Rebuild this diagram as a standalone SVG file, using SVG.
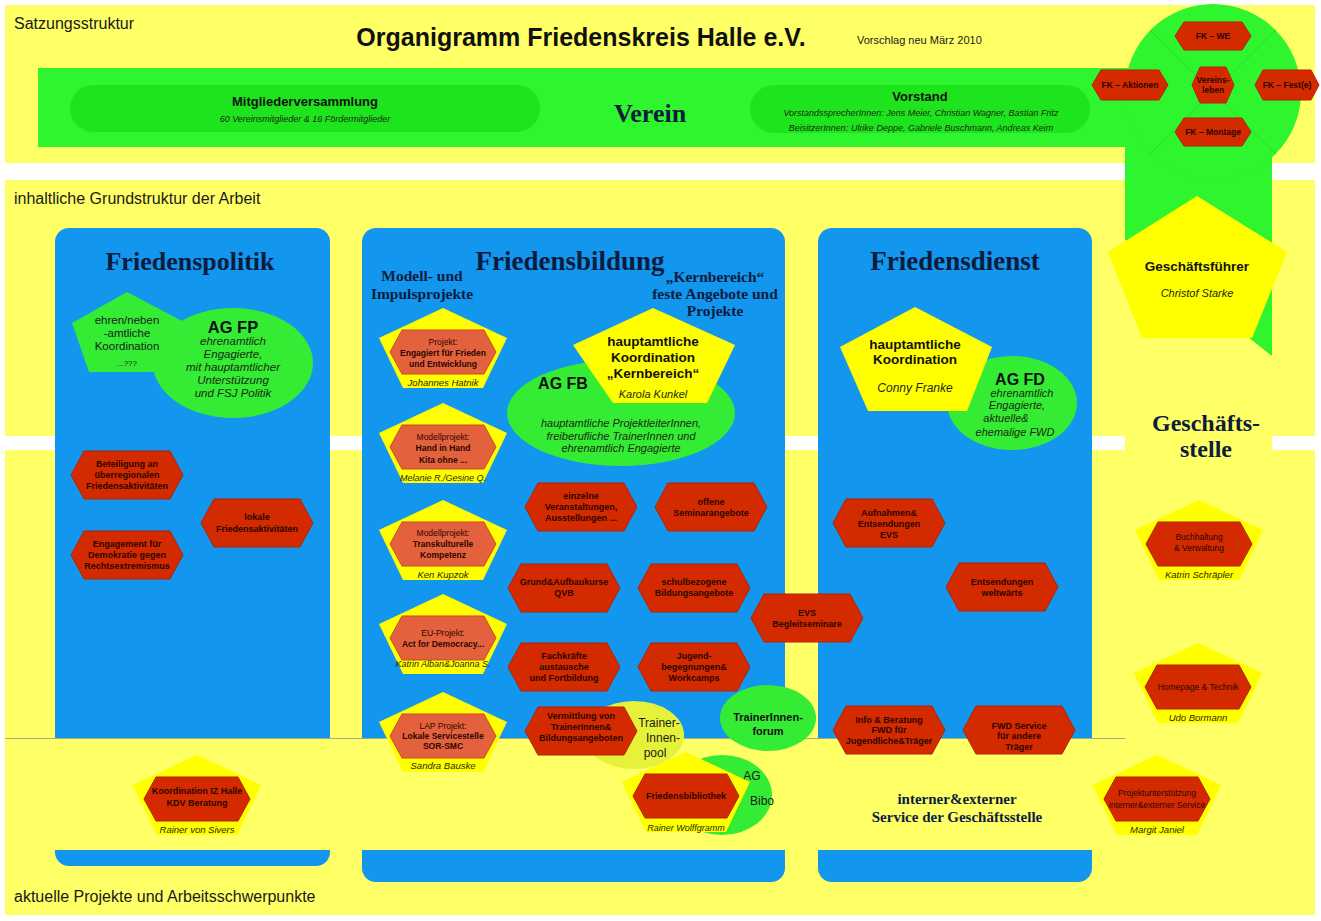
<svg xmlns="http://www.w3.org/2000/svg" width="1321" height="921" viewBox="0 0 1321 921">
<style>
.serif{font-family:"Liberation Serif","Times New Roman",serif;font-weight:bold;fill:#0d1c3d;text-anchor:middle}
.bg{fill:#ffff66}
.col{fill:#1296ee}
.band{fill:#2ef52e}
.pill{fill:#1de41d}
.grn{fill:#34ec34}
.pent{fill:#ffff00}
.hex{fill:#d42a00;stroke:#b52300;stroke-width:1}
.hexp{fill:#e4613d;stroke:#c94a2a;stroke-width:1}
.pool{fill:#e6f23a}
.hx{font-family:"Liberation Sans",Arial,sans-serif;font-size:9px;font-weight:bold;fill:#2b0600;text-anchor:middle}
.fk{font-family:"Liberation Sans",Arial,sans-serif;font-size:8.5px;font-weight:bold;fill:#2b0600;text-anchor:middle}
.hp{font-family:"Liberation Sans",Arial,sans-serif;font-size:8.5px;font-weight:bold;fill:#2b0600;text-anchor:middle}
.hn{font-family:"Liberation Sans",Arial,sans-serif;font-size:8.5px;fill:#2b0600;text-anchor:middle}
.nm{font-family:"Liberation Sans",Arial,sans-serif;font-style:italic;fill:#2a2a10;text-anchor:middle}
.lbl{font-family:"Liberation Sans",Arial,sans-serif;fill:#1a1a1a}
.bold{font-family:"Liberation Sans",Arial,sans-serif;font-weight:bold;fill:#111;text-anchor:middle}
.it{font-family:"Liberation Sans",Arial,sans-serif;font-style:italic;fill:#1a2a10;text-anchor:middle}
.sp{stroke:#22c822;stroke-width:1;opacity:0.5}
</style>
<defs>
  <polygon id="pent" points="0,0 64,30 40,80 -40,80 -64,30"/>
  <polygon id="hexIn" points="-53,44 -41,22 41,22 53,44 41,66 -41,66"/>
  <polygon id="hexL" points="-56,0 -43,-24 43,-24 56,0 43,24 -43,24"/>
  <polygon id="hexFK" points="-38,0 -29,-14 29,-14 38,0 29,14 -29,14"/>
</defs>

<!-- page background and sections -->
<rect width="1321" height="921" fill="#ffffff"/>
<rect class="bg" x="5" y="5" width="1310" height="158"/>
<rect class="bg" x="5" y="180" width="1310" height="735"/>
<rect x="0" y="436" width="1321" height="14" fill="#ffffff"/>
<rect class="bg" x="1125" y="430" width="147" height="26"/>

<!-- Verein band, circle and link down to the Geschäftsstelle -->
<polygon class="band" points="1125,140 1272,140 1272,356 1125,240"/>
<rect class="band" x="38" y="68" width="1180" height="79"/>
<circle class="band" cx="1213" cy="92" r="88"/>
<line class="sp" x1="1213" y1="92" x2="1150" y2="30"/>
<line class="sp" x1="1213" y1="92" x2="1276" y2="30"/>
<line class="sp" x1="1213" y1="92" x2="1150" y2="154"/>
<line class="sp" x1="1213" y1="92" x2="1276" y2="154"/>

<text class="lbl" x="14" y="29" font-size="16">Satzungsstruktur</text>
<text class="bold" x="581" y="46" font-size="25">Organigramm Friedenskreis Halle e.V.</text>
<text class="lbl" x="857" y="44" font-size="11">Vorschlag neu März 2010</text>
<text class="lbl" x="14" y="204" font-size="16">inhaltliche Grundstruktur der Arbeit</text>
<text class="lbl" x="14" y="902" font-size="16">aktuelle Projekte und Arbeitsschwerpunkte</text>

<g id="mitgliederversammlung">
  <rect class="pill" x="70" y="85" width="470" height="47" rx="23.5"/>
  <text class="bold" x="305" y="106" font-size="13">Mitgliederversammlung</text>
  <text class="it" x="305" y="122" font-size="9">60 Vereinsmitglieder &amp; 16  Fördermitglieder</text>
</g>
<g id="verein">
  <text class="serif" x="650" y="122" font-size="26" fill="#111">Verein</text>
</g>
<g id="vorstand">
  <rect class="pill" x="750" y="85" width="340" height="48" rx="24"/>
  <text class="bold" x="920" y="101" font-size="13">Vorstand</text>
  <text class="it" x="921" y="116" font-size="9">VorstandssprecherInnen:  Jens Meier, Christian Wagner, Bastian Fritz</text>
  <text class="it" x="921" y="131" font-size="9">BeisitzerInnen: Ulrike Deppe, Gabriele Buschmann, Andreas Keim</text>
</g>

<g id="fk-we" transform="translate(1213,36)">
  <use href="#hexFK" class="hex"/>
  <text class="fk" y="3">FK – WE</text>
</g>
<g id="fk-aktionen" transform="translate(1130,85)">
  <polygon class="hex" points="-38,0 -29,-15 29,-15 38,0 29,15 -29,15"/>
  <text class="fk" y="3">FK – Aktionen</text>
</g>
<g id="vereinsleben" transform="translate(1213,85)">
  <polygon class="hex" points="-21,0 -13,-18 13,-18 21,0 13,18 -13,18"/>
  <text class="fk" y="-2">Vereins-</text>
  <text class="fk" y="8">leben</text>
</g>
<g id="fk-feste" transform="translate(1287,85)">
  <polygon class="hex" points="-32,0 -24,-15 24,-15 32,0 24,15 -24,15"/>
  <text class="fk" y="3">FK – Fest(e)</text>
</g>
<g id="fk-montage" transform="translate(1213,132)">
  <use href="#hexFK" class="hex"/>
  <text class="fk" y="3">FK – Montage</text>
</g>

<!-- working area columns -->
<rect class="col" x="55" y="228" width="275" height="638" rx="14"/>
<rect class="col" x="362" y="228" width="423" height="654" rx="14"/>
<rect class="col" x="818" y="228" width="274" height="654" rx="14"/>
<rect class="bg" x="5" y="739" width="1120" height="111"/>
<line x1="5" y1="738.5" x2="1125" y2="738.5" stroke="#a9a98a" stroke-width="1"/>

<g id="connectors"/>

<!-- Friedenspolitik -->
<text class="serif" x="190" y="270" font-size="26">Friedenspolitik</text>
<g id="ag-fp">
  <ellipse class="grn" cx="233" cy="363" rx="80" ry="55"/>
  <text class="bold" x="233" y="333" font-size="16.5">AG FP</text>
  <text class="it" x="233" y="345" font-size="11.5">ehrenamtlich</text>
  <text class="it" x="233" y="358" font-size="11.5">Engagierte,</text>
  <text class="it" x="233" y="371" font-size="11.5">mit hauptamtlicher</text>
  <text class="it" x="233" y="384" font-size="11.5">Unterstützung</text>
  <text class="it" x="233" y="397" font-size="11.5">und FSJ Politik</text>
</g>
<g id="fp-koordination">
  <polygon class="grn" points="127,292 182,321 156,372 89,372 72,323"/>
  <text class="lbl" x="127" y="324" font-size="11.5" text-anchor="middle">ehren/neben</text>
  <text class="lbl" x="127" y="337" font-size="11.5" text-anchor="middle">-amtliche</text>
  <text class="lbl" x="127" y="350" font-size="11.5" text-anchor="middle">Koordination</text>
  <text class="lbl" x="127" y="366" font-size="8" text-anchor="middle">...???</text>
</g>
<g id="fp-beteiligung" transform="translate(127,475)">
  <use href="#hexL" class="hex"/>
  <text class="hx" y="-8">Beteiligung an</text>
  <text class="hx" y="3">überregionalen</text>
  <text class="hx" y="14">Friedensaktivitäten</text>
</g>
<g id="fp-lokal" transform="translate(257,523)">
  <use href="#hexL" class="hex"/>
  <text class="hx" y="-3">lokale</text>
  <text class="hx" y="9">Friedensaktivitäten</text>
</g>
<g id="fp-demokratie" transform="translate(127,555)">
  <use href="#hexL" class="hex"/>
  <text class="hx" y="-8">Engagement für</text>
  <text class="hx" y="3">Demokratie gegen</text>
  <text class="hx" y="14">Rechtsextremismus</text>
</g>
<g id="fp-kdv" transform="translate(197,755)">
  <use href="#pent" class="pent"/>
  <use href="#hexIn" class="hex"/>
  <text class="hx" y="39">Koordination IZ Halle</text>
  <text class="hx" y="51">KDV Beratung</text>
  <text class="nm" y="78" font-size="9.5">Rainer von Sivers</text>
</g>

<!-- Friedensbildung -->
<text class="serif" x="570" y="270" font-size="27">Friedensbildung</text>
<text class="serif" x="422" y="281" font-size="15.5">Modell- und</text>
<text class="serif" x="422" y="299" font-size="15.5">Impulsprojekte</text>
<text class="serif" x="715" y="282" font-size="15.5">„Kernbereich“</text>
<text class="serif" x="715" y="299" font-size="15.5">feste Angebote und</text>
<text class="serif" x="715" y="316" font-size="15.5">Projekte</text>

<g id="fb-engagiert" transform="translate(443,308)">
  <use href="#pent" class="pent"/>
  <use href="#hexIn" class="hexp"/>
  <text class="hn" y="37">Projekt:</text>
  <text class="hp" y="48">Engagiert für Frieden</text>
  <text class="hp" y="59">und Entwicklung</text>
  <text class="nm" y="78" font-size="9.5">Johannes Hatnik</text>
</g>
<g id="fb-handinhand" transform="translate(443,403)">
  <use href="#pent" class="pent"/>
  <use href="#hexIn" class="hexp"/>
  <text class="hn" y="37">Modellprojekt:</text>
  <text class="hp" y="48">Hand in Hand</text>
  <text class="hp" y="60">Kita ohne ...</text>
  <text class="nm" y="78" font-size="9">Melanie R./Gesine Q.</text>
</g>
<g id="fb-transkulturell" transform="translate(443,500)">
  <use href="#pent" class="pent"/>
  <use href="#hexIn" class="hexp"/>
  <text class="hn" y="36">Modellprojekt:</text>
  <text class="hp" y="47">Transkulturelle</text>
  <text class="hp" y="58">Kompetenz</text>
  <text class="nm" y="78" font-size="9.5">Ken Kupzok</text>
</g>
<g id="fb-democracy" transform="translate(443,594)">
  <use href="#pent" class="pent"/>
  <use href="#hexIn" class="hexp"/>
  <text class="hn" y="42">EU-Projekt:</text>
  <text class="hp" y="53">Act for Democracy...</text>
  <text class="nm" y="73" font-size="9">Katrin Alban&amp;Joanna  S.</text>
</g>
<g id="fb-lap" transform="translate(443,692)">
  <use href="#pent" class="pent"/>
  <use href="#hexIn" class="hexp"/>
  <text class="hn" y="37">LAP Projekt:</text>
  <text class="hp" y="47">Lokale Servicestelle</text>
  <text class="hp" y="57">SOR-SMC</text>
  <text class="nm" y="77" font-size="9.5">Sandra Bauske</text>
</g>

<g id="ag-fb">
  <ellipse class="grn" cx="621" cy="413" rx="114" ry="53"/>
  <text class="bold" x="563" y="389" font-size="16">AG FB</text>
  <text class="it" x="621" y="427" font-size="11">hauptamtliche ProjektleiterInnen,</text>
  <text class="it" x="621" y="440" font-size="11">freiberufliche TrainerInnen und</text>
  <text class="it" x="621" y="452" font-size="11">ehrenamtlich Engagierte</text>
</g>
<g id="fb-koordination">
  <polygon class="pent" points="653,308 735,345 707,403 613,403 573,345"/>
  <text class="bold" x="653" y="346" font-size="13.5">hauptamtliche</text>
  <text class="bold" x="653" y="362" font-size="13.5">Koordination</text>
  <text class="bold" x="653" y="378" font-size="13.5">„Kernbereich“</text>
  <text class="it" x="653" y="398" font-size="11">Karola Kunkel</text>
</g>

<g id="fb-veranstaltungen" transform="translate(581,507)">
  <use href="#hexL" class="hex"/>
  <text class="hx" y="-8">einzelne</text>
  <text class="hx" y="3">Veranstaltungen,</text>
  <text class="hx" y="14">Ausstellungen ...</text>
</g>
<g id="fb-seminare" transform="translate(711,507)">
  <use href="#hexL" class="hex"/>
  <text class="hx" y="-2">offene</text>
  <text class="hx" y="9">Seminarangebote</text>
</g>
<g id="fb-qvb" transform="translate(564,588)">
  <use href="#hexL" class="hex"/>
  <text class="hx" y="-3">Grund&amp;Aufbaukurse</text>
  <text class="hx" y="8">QVB</text>
</g>
<g id="fb-schule" transform="translate(694,588)">
  <use href="#hexL" class="hex"/>
  <text class="hx" y="-3">schulbezogene</text>
  <text class="hx" y="8">Bildungsangebote</text>
</g>
<g id="fb-fachkraefte" transform="translate(564,667)">
  <use href="#hexL" class="hex"/>
  <text class="hx" y="-8">Fachkräfte</text>
  <text class="hx" y="3">austausche</text>
  <text class="hx" y="14">und Fortbildung</text>
</g>
<g id="fb-jugend" transform="translate(694,667)">
  <use href="#hexL" class="hex"/>
  <text class="hx" y="-8">Jugend-</text>
  <text class="hx" y="3">begegnungen&amp;</text>
  <text class="hx" y="14">Workcamps</text>
</g>
<g id="fb-trainerpool">
  <ellipse class="pool" cx="634" cy="735" rx="50" ry="34"/>
  <text class="lbl" x="659" y="727" font-size="12" text-anchor="middle">Trainer-</text>
  <text class="lbl" x="663" y="742" font-size="12" text-anchor="middle">Innen-</text>
  <text class="lbl" x="655" y="757" font-size="12" text-anchor="middle">pool</text>
</g>
<g id="fb-vermittlung" transform="translate(581,731)">
  <use href="#hexL" class="hex"/>
  <text class="hx" y="-12">Vermittlung von</text>
  <text class="hx" y="-1">TrainerInnen&amp;</text>
  <text class="hx" y="10">Bildungsangeboten</text>
</g>
<g id="fb-trainerforum">
  <ellipse class="grn" cx="768" cy="718" rx="48" ry="33"/>
  <text class="bold" x="768" y="721" font-size="11">TrainerInnen-</text>
  <text class="bold" x="768" y="735" font-size="11">forum</text>
</g>
<g id="fb-bibliothek">
  <ellipse class="grn" cx="722" cy="795" rx="50" ry="40"/>
  <text class="lbl" x="752" y="780" font-size="12" text-anchor="middle">AG</text>
  <text class="lbl" x="762" y="805" font-size="12" text-anchor="middle">Bibo</text>
  <g transform="translate(686,752)">
    <use href="#pent" class="pent"/>
    <use href="#hexIn" class="hex"/>
    <text class="hx" y="47">Friedensbibliothek</text>
    <text class="nm" y="79" font-size="9">Rainer Wolffgramm</text>
  </g>
</g>
<g id="evs-begleitseminare" transform="translate(807,618)">
  <use href="#hexL" class="hex"/>
  <text class="hx" y="-2">EVS</text>
  <text class="hx" y="9">Begleitseminare</text>
</g>

<!-- Friedensdienst -->
<text class="serif" x="955" y="270" font-size="27">Friedensdienst</text>
<g id="ag-fd">
  <ellipse class="grn" cx="1012" cy="403" rx="65" ry="47"/>
  <text class="bold" x="1020" y="385" font-size="16">AG FD</text>
  <text class="it" x="1022" y="397" font-size="11">ehrenamtlich</text>
  <text class="it" x="1017" y="409" font-size="11">Engagierte,</text>
  <text class="it" x="1006" y="422" font-size="11">aktuelle&amp;</text>
  <text class="it" x="1015" y="436" font-size="11">ehemalige FWD</text>
</g>
<g id="fd-koordination">
  <polygon class="pent" points="915,307 992,347 967,411 868,411 840,347"/>
  <text class="bold" x="915" y="349" font-size="13.5">hauptamtliche</text>
  <text class="bold" x="915" y="364" font-size="13.5">Koordination</text>
  <text class="it" x="915" y="392" font-size="12">Conny Franke</text>
</g>
<g id="fd-evs" transform="translate(889,523)">
  <use href="#hexL" class="hex"/>
  <text class="hx" y="-7">Aufnahmen&amp;</text>
  <text class="hx" y="4">Entsendungen</text>
  <text class="hx" y="15">EVS</text>
</g>
<g id="fd-weltwaerts" transform="translate(1002,587)">
  <use href="#hexL" class="hex"/>
  <text class="hx" y="-2">Entsendungen</text>
  <text class="hx" y="9">weltwärts</text>
</g>
<g id="fd-beratung" transform="translate(889,730)">
  <use href="#hexL" class="hex"/>
  <text class="hx" y="-7">Info &amp; Beratung</text>
  <text class="hx" y="3">FWD für</text>
  <text class="hx" y="14">Jugendliche&amp;Träger</text>
</g>
<g id="fd-service" transform="translate(1019,730)">
  <use href="#hexL" class="hex"/>
  <text class="hx" y="-1">FWD Service</text>
  <text class="hx" y="9">für andere</text>
  <text class="hx" y="20">Träger</text>
</g>
<text class="serif" x="957" y="804" font-size="15">interner&amp;externer</text>
<text class="serif" x="957" y="822" font-size="15">Service der Geschäftsstelle</text>

<!-- Geschäftsstelle -->
<g id="geschaeftsfuehrer">
  <polygon class="pent" points="1197,196 1287,252 1252,338 1142,338 1108,252"/>
  <text class="bold" x="1197" y="271" font-size="13.5">Geschäftsführer</text>
  <text class="it" x="1197" y="297" font-size="11">Christof Starke</text>
</g>
<text class="serif" x="1206" y="431" font-size="24" fill="#111">Geschäfts-</text>
<text class="serif" x="1206" y="457" font-size="24" fill="#111">stelle</text>
<g id="gs-buchhaltung" transform="translate(1199,500)">
  <use href="#pent" class="pent"/>
  <use href="#hexIn" class="hex"/>
  <text class="hn" y="40">Buchhaltung</text>
  <text class="hn" y="51">&amp; Verwaltung</text>
  <text class="nm" y="78" font-size="9.5">Katrin Schräpler</text>
</g>
<g id="gs-homepage" transform="translate(1198,643)">
  <use href="#pent" class="pent"/>
  <use href="#hexIn" class="hex"/>
  <text class="hn" y="47">Homepage &amp; Technik</text>
  <text class="nm" y="78" font-size="9.5">Udo Bormann</text>
</g>
<g id="gs-projektunterstuetzung" transform="translate(1157,755)">
  <use href="#pent" class="pent"/>
  <use href="#hexIn" class="hex"/>
  <text class="hn" y="41">Projektunterstützung</text>
  <text class="hn" y="53">interner&amp;externer Service</text>
  <text class="nm" y="78" font-size="9.5">Margit Janiel</text>
</g>
</svg>
